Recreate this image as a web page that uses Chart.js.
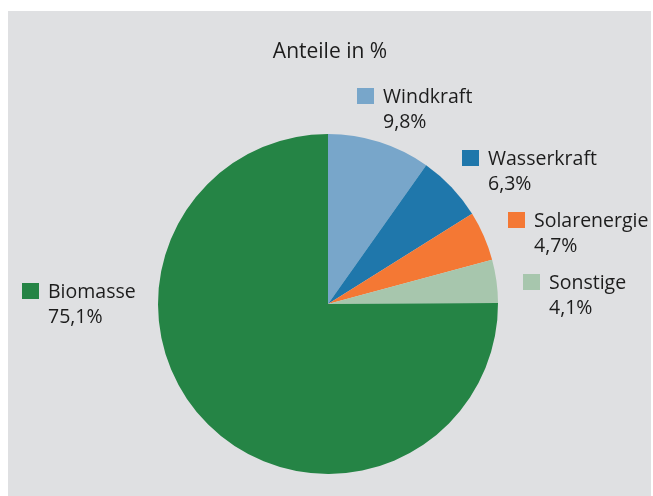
<!DOCTYPE html>
<html>
<head>
<meta charset="utf-8">
<script src="https://cdn.jsdelivr.net/npm/chart.js@4"></script>
<style>
    html, body { margin: 0; padding: 0; background: #ffffff; }
    #panel {
        position: absolute;
        left: 8px;
        top: 11px;
        width: 643px;
        height: 485px;
        background: #dfe0e2;
    }
</style>
</head>
<body>
<div id="panel"><canvas id="chart" width="643" height="485"></canvas></div>
<script>
const categories = ['Windkraft', 'Wasserkraft', 'Solarenergie', 'Sonstige', 'Biomasse'];
const shares = [9.8, 6.3, 4.7, 4.1, 75.1];
const shareLabels = ['9,8%', '6,3%', '4,7%', '4,1%', '75,1%'];
const chartTitle = 'Anteile in %';

const sliceColors = ['#78a6ca', '#1f77ab', '#f47834', '#a7c6ad', '#258445'];

// marker top-left corner, relative to the pie centre
const labelOffsets = [
    {dx: 29, dy: -216},
    {dx: 134, dy: -154},
    {dx: 180, dy: -92},
    {dx: 195, dy: -30},
    {dx: -306, dy: -21}
];

const FONT = '19.5px "Open Sans", "Noto Sans", sans-serif';
const TITLE_FONT = '21px "Open Sans", "Noto Sans", sans-serif';

const labelPlugin = {
    id: 'sliceLabels',
    afterDraw(chart) {
        const arc = chart.getDatasetMeta(0).data[0];
        if (!arc) return;
        const cx = arc.x, cy = arc.y;
        const ctx = chart.ctx;
        ctx.save();
        ctx.fillStyle = '#1c1c1c';
        ctx.textBaseline = 'alphabetic';

        ctx.font = TITLE_FONT;
        ctx.textAlign = 'center';
        ctx.fillText(chartTitle, cx + 2, cy - 246);

        ctx.font = FONT;
        ctx.textAlign = 'left';
        categories.forEach((name, i) => {
            const x = cx + labelOffsets[i].dx;
            const y = cy + labelOffsets[i].dy;
            ctx.fillStyle = sliceColors[i];
            ctx.fillRect(x, y, 17, 16);
            ctx.fillStyle = '#1c1c1c';
            ctx.fillText(name, x + 26, y + 15);
            ctx.fillText(shareLabels[i], x + 26, y + 40);
        });
        ctx.restore();
    }
};

new Chart(document.getElementById('chart'), {
    type: 'pie',
    data: {
        labels: categories,
        datasets: [{
            data: shares,
            backgroundColor: sliceColors,
            borderWidth: 0
        }]
    },
    options: {
        responsive: false,
        animation: false,
        layout: {
            padding: {left: 150, right: 153, top: 123, bottom: 22}
        },
        plugins: {
            legend: {display: false},
            tooltip: {enabled: false},
            title: {display: false}
        }
    },
    plugins: [labelPlugin]
});
</script>
</body>
</html>
